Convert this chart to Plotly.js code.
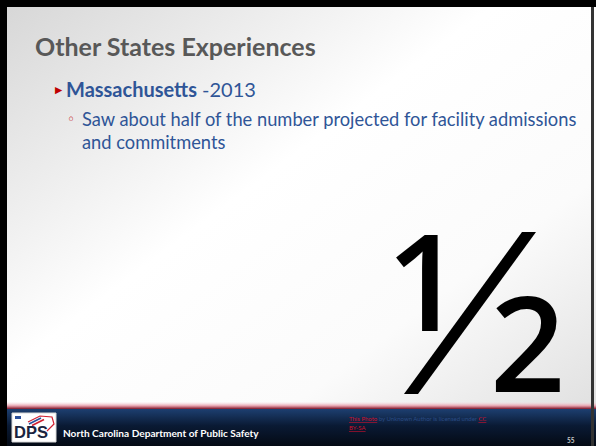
<!DOCTYPE html>
<html>
<head>
<meta charset="utf-8">
<script src="https://cdn.plot.ly/plotly-3.0.1.min.js"></script>
<style>html,body{margin:0;padding:0;background:#fff;}#chart{width:596px;height:446px;}</style>
</head>
<body>
<div id="chart"></div>
<script>
// ---- content ----
const titleText = "Other States Experiences";
const bulletHeading = "Massachusetts";
const bulletYear = "-2013";
const subBulletLines = ["Saw about half of the number projected for facility admissions", "and commitments"];
const fractionParts = ["1", "2"];
const footerText = "North Carolina Department of Public Safety";
const creditParts = ["This Photo", " by Unknown Author is licensed under ", "CC", "BY-SA"];
const logoText = "DPS";
const slideNumber = "55";

const W = 596, H = 446;
const px = x => x / W;
const py = y => 1 - y / H;

const svg = `<svg xmlns='http://www.w3.org/2000/svg' width='596' height='446'>
<defs>
<linearGradient id='bg' x1='0' y1='0' x2='1' y2='1'>
<stop offset='0' stop-color='#d6d6d6'/>
<stop offset='0.42' stop-color='#ffffff'/>
<stop offset='0.7' stop-color='#fbfbfb'/>
<stop offset='1' stop-color='#dcdcdc'/>
</linearGradient>
<linearGradient id='ft' x1='0' y1='0' x2='0' y2='1'>
<stop offset='0' stop-color='#1d3f70'/>
<stop offset='0.45' stop-color='#0a1a34'/>
<stop offset='1' stop-color='#040a14'/>
</linearGradient>
<linearGradient id='rl' x1='0' y1='0' x2='0' y2='1'>
<stop offset='0' stop-color='#f6d6dc' stop-opacity='0.1'/>
<stop offset='0.55' stop-color='#e6a0ac'/>
<stop offset='1' stop-color='#7c1428'/>
</linearGradient>
</defs>
<rect width='596' height='446' fill='url(#bg)'/>
<rect x='0' y='402' width='596' height='7' fill='url(#rl)'/>
<rect x='0' y='409' width='596' height='37' fill='url(#ft)'/>
</svg>`;
const bgSrc = "data:image/svg+xml;charset=utf-8," + encodeURIComponent(svg);

const blue = "#2f5597";
const sans = "Lato, 'Open Sans', sans-serif";

const annotations = [
  {x: px(34), y: py(46), text: "<b>" + titleText + "</b>", font: {family: sans, size: 25, color: "#585858"}},
  {x: px(54), y: py(89), text: "\u25B6", font: {family: "DejaVu Sans", size: 9.5, color: "#c00000"}},
  {x: px(65), y: py(89), text: "<b>" + bulletHeading + "</b> " + bulletYear, font: {family: sans, size: 20, color: blue}},
  {x: px(66), y: py(119), text: "\u25E6", font: {family: "DejaVu Sans", size: 14, color: "#c00000"}},
  {x: px(81), y: py(119), text: subBulletLines[0], font: {family: sans, size: 18.3, color: blue}},
  {x: px(81), y: py(142), text: subBulletLines[1], font: {family: sans, size: 18.3, color: blue}},
  {x: px(62), y: py(433), text: "<b>" + footerText + "</b>", font: {family: sans, size: 10.1, color: "#ffffff"}},
  {x: px(348), y: py(418.5), text: "<u>" + creditParts[0] + "</u><span style='color:#2a4c85'>" + creditParts[1] + "</span><u>" + creditParts[2] + "</u>", font: {family: sans, size: 6, color: "#d0102c"}},
  {x: px(348), y: py(427.5), text: "<u>" + creditParts[3] + "</u>", font: {family: sans, size: 6, color: "#d0102c"}},
  {x: px(566), y: py(440), text: "<b>" + slideNumber + "</b>", font: {family: sans, size: 6.5, color: "#c8c8c8"}},
  {x: px(13), y: py(431.5), text: "<b>" + logoText + "</b>", font: {family: "'Liberation Sans', Arial, sans-serif", size: 16.5, color: "#1a2440"}},
  {x: px(424), y: py(279), text: fractionParts[0], xanchor: "center", font: {family: "'Open Sans', sans-serif", size: 135, weight: 650, color: "#000"}},
  {x: px(527), y: py(341), text: fractionParts[1], xanchor: "center", font: {family: "'Open Sans', sans-serif", size: 132, weight: 650, color: "#000"}}
].map(a => Object.assign({xref: "paper", yref: "paper", xanchor: "left", yanchor: "middle", align: "left", showarrow: false, borderpad: 0}, a));

const shapes = [
  // slide frame
  {type: "rect", x0: 0, x1: px(7), y0: py(446), y1: 1, fillcolor: "#000", line: {width: 0}},
  {type: "rect", x0: 0, x1: 1, y0: py(7), y1: 1, fillcolor: "#000", line: {width: 0}},
  {type: "rect", x0: px(591), x1: px(594), y0: py(446), y1: py(7), fillcolor: "#333", line: {width: 0}},
  // fraction slash
  {type: "path", path: `M ${px(404)} ${py(394)} L ${px(418)} ${py(394)} L ${px(536)} ${py(232)} L ${px(522)} ${py(232)} Z`, fillcolor: "#000", line: {width: 0}},
  // logo box
  {type: "rect", x0: px(12), x1: px(56), y0: py(442), y1: py(413), fillcolor: "#ffffff", line: {color: "#d8d8d8", width: 1}},
  {type: "path", path: `M ${px(28)} ${py(422)} L ${px(40)} ${py(416)} L ${px(52)} ${py(417)} L ${px(54)} ${py(424)} L ${px(47)} ${py(431)}`, line: {color: "#d02030", width: 1.2}},
  {type: "line", x0: px(29), y0: py(424), x1: px(41), y1: py(418), line: {color: "#2a4f9a", width: 1.6}},
  {type: "line", x0: px(32), y0: py(425.5), x1: px(44), y1: py(419.5), line: {color: "#d02030", width: 1.6}},
  {type: "rect", x0: px(15), x1: px(21), y0: py(419), y1: py(416), fillcolor: "#2a4f9a", line: {width: 0}}
].map(s => Object.assign({xref: "paper", yref: "paper", layer: "above"}, s));

const layout = {
  width: W, height: H,
  margin: {l: 0, r: 0, t: 0, b: 0, pad: 0},
  paper_bgcolor: "#ffffff",
  plot_bgcolor: "rgba(0,0,0,0)",
  xaxis: {visible: false, range: [0, 1], fixedrange: true},
  yaxis: {visible: false, range: [0, 1], fixedrange: true},
  showlegend: false,
  images: [{source: bgSrc, xref: "paper", yref: "paper", x: 0, y: 1, sizex: 1, sizey: 1, sizing: "stretch", xanchor: "left", yanchor: "top", layer: "below"}],
  shapes: shapes,
  annotations: annotations
};

Plotly.newPlot("chart", [], layout, {displayModeBar: false, staticPlot: true});
</script>
</body>
</html>
